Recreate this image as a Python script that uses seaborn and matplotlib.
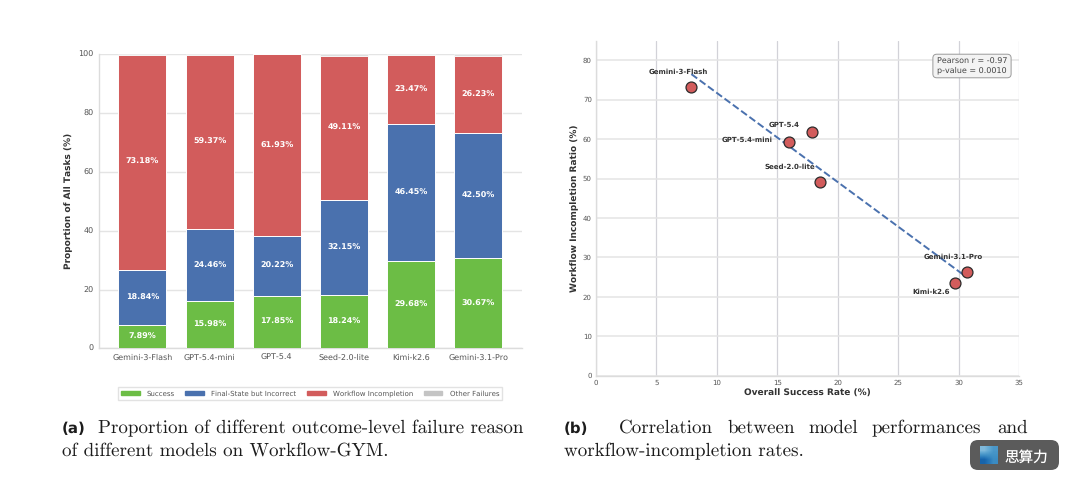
import matplotlib
matplotlib.use("Agg")
import numpy as np
import seaborn as sns
import matplotlib.pyplot as plt
from matplotlib.patches import FancyBboxPatch, Patch

# Data
models = ["Gemini-3-Flash", "GPT-5.4-mini", "GPT-5.4", "Seed-2.0-lite", "Kimi-k2.6", "Gemini-3.1-Pro"]
success = [7.89, 15.98, 17.85, 18.24, 29.68, 30.67]
final_state = [18.84, 24.46, 20.22, 32.15, 46.45, 42.50]
incomplete = [73.18, 59.37, 61.93, 49.11, 23.47, 26.23]
other = [0.09, 0.19, 0.00, 0.50, 0.40, 0.60]
series_names = ["Success", "Final-State but Incorrect", "Workflow Incompletion", "Other Failures"]
# x position of the scatter points as drawn in panel (b)
scatter_success = [7.89, 15.98, 17.85, 18.55, 29.68, 30.67]
pearson_text = "Pearson r = -0.97\np-value = 0.0010"

GREEN, BLUE, RED, GREY = "#6cbd45", "#4a71ae", "#d25c5c", "#c4c4c4"
W, H = 1080, 479

sns.set_theme(style="whitegrid")
plt.rcParams["font.family"] = ["DejaVu Sans"]
plt.rcParams["text.hinting"] = "no_hinting"
plt.rcParams["text.hinting_factor"] = 1
fig = plt.figure(figsize=(W / 100, H / 100), dpi=100, facecolor="white")


def axes_box(x0, x1, ytop, ybottom):
    return [x0 / W, 1 - ybottom / H, (x1 - x0) / W, (ybottom - ytop) / H]


def px_text(x, y, s, **kw):
    fig.text(x / W, 1 - y / H, s, va="baseline", **kw)


# (a) stacked bars
ax1 = fig.add_axes(axes_box(99, 522, 54.3, 348.3))
bottom = np.zeros(len(models))
for vals, color in zip([success, final_state, incomplete, other], [GREEN, BLUE, RED, GREY]):
    sns.barplot(x=models, y=vals, bottom=bottom, color=color, saturation=1, width=0.715,
                edgecolor="white", linewidth=0.7, alpha=0.5 if color == GREY else 1, ax=ax1, zorder=3)
    if color != GREY:
        for i, v in enumerate(vals):
            ax1.text(i, bottom[i] + v / 2, f"{v:.2f}%", ha="center", va="center", color="white",
                     fontsize=5.6, fontweight="bold", zorder=4)
    bottom = bottom + np.array(vals)

ax1.set_xlim(-0.646, 5.65)
ax1.set_ylim(0, 100)
ax1.set_yticks([0, 20, 40, 60, 80, 100])
ax1.grid(axis="x", visible=False)
ax1.grid(axis="y", color="#e4e4e4", linewidth=1.0)
ax1.set_axisbelow(True)
ax1.tick_params(axis="both", labelsize=5.7, labelcolor="#555555", length=0, pad=4)
ax1.set_xlabel("")
ax1.set_ylabel("Proportion of All Tasks (%)", fontsize=6.2, fontweight="bold", color="#333333", labelpad=4)
for name, spine in ax1.spines.items():
    spine.set_visible(name in ("left", "bottom"))
    spine.set_color("#dcdcdc")
    spine.set_linewidth(1.0)

handles = [Patch(facecolor=c, edgecolor=c, label=n) for c, n in zip([GREEN, BLUE, RED, GREY], series_names)]
ax1.legend(handles=handles, loc="center", bbox_to_anchor=(310 / W, 1 - 393.5 / H), bbox_transform=fig.transFigure,
           ncol=4, fontsize=5.2, frameon=True, edgecolor="#e2e2e2", facecolor="white", framealpha=1, fancybox=False,
           handlelength=2.6, handleheight=0.5, columnspacing=1.45, handletextpad=1.0, borderpad=0.45,
           labelcolor="#555555")

# (b) scatter with fitted line
ax2 = fig.add_axes(axes_box(596, 1019, 40.6, 375.7))
sns.regplot(x=scatter_success, y=incomplete, ci=None, scatter=False, truncate=True, ax=ax2,
            line_kws={"color": BLUE, "linestyle": "--", "linewidth": 1.4})
sns.scatterplot(x=scatter_success, y=incomplete, s=62, color=RED, edgecolor="#2b2b2b", linewidth=0.9, ax=ax2, zorder=5)

label_offsets = {
    "Gemini-3-Flash": (-13, 15), "GPT-5.4-mini": (-42, 2), "GPT-5.4": (-28, 7),
    "Seed-2.0-lite": (-30, 15), "Kimi-k2.6": (-24, -9), "Gemini-3.1-Pro": (-13, 15),
}
for name, x, y in zip(models, scatter_success, incomplete):
    ax2.annotate(name, (x, y), xytext=label_offsets[name], textcoords="offset pixels", ha="center", va="center",
                 fontsize=5.3, fontweight="bold", color="#333333", zorder=6)

ax2.set_xlim(0, 35)
ax2.set_ylim(0, 85)
ax2.set_xticks(range(0, 36, 5))
ax2.set_yticks(range(0, 81, 10))
ax2.grid(axis="x", color="#d2d2d8", linewidth=0.9)
ax2.grid(axis="y", color="#e4e4e4", linewidth=1.1)
ax2.set_axisbelow(True)
ax2.tick_params(axis="both", labelsize=5.3, labelcolor="#555555", length=0, pad=3)
ax2.set_xlabel("Overall Success Rate (%)", fontsize=6.2, fontweight="bold", color="#333333", labelpad=2)
ax2.set_ylabel("Workflow Incompletion Ratio (%)", fontsize=6.2, fontweight="bold", color="#333333", labelpad=3)
for name, spine in ax2.spines.items():
    spine.set_visible(name in ("left", "bottom"))
    spine.set_color("#dcdcdc")
    spine.set_linewidth(1.0)
ax2.text((972 - 596) / 423, (375.7 - 66) / 335.1, pearson_text, transform=ax2.transAxes, ha="center", va="center",
         fontsize=5.6, color="#444444", linespacing=1.05, zorder=7,
         bbox=dict(boxstyle="round,pad=0.5", facecolor="#f3f3f3", edgecolor="#9a9a9a", linewidth=0.7))

# captions
serif = dict(family="cmr10", fontsize=13.7, color="#1c1c1c")
bold = dict(family="DejaVu Sans", fontsize=11, fontweight="bold", color="#1c1c1c")
px_text(62, 433, "(a)", **bold)
px_text(98, 433, "Proportion of different outcome-level failure reason", **serif)
px_text(62, 456, "of different models on Workflow-GYM.", **serif)
px_text(564, 433, "(b)", **bold)
for x, word in zip([619, 728, 808, 872, 997], ["Correlation", "between", "model", "performances", "and"]):
    px_text(x, 433, word, **serif)
px_text(564, 456, "workflow-incompletion rates.", **serif)

# watermark badge with a small gradient icon
overlay = fig.add_axes([0, 0, 1, 1], facecolor="none")
overlay.axis("off")
overlay.add_patch(FancyBboxPatch((970, 440), 89, 30, boxstyle="round,pad=0,rounding_size=8",
                                 facecolor="#5b5b5b", edgecolor="none"))
overlay.imshow([[0.45, 0.6], [0.8, 0.65]], extent=(980, 998, 464, 446), cmap="Blues", vmin=0, vmax=1,
               aspect="auto", interpolation="bilinear", zorder=3)
overlay.set_xlim(0, W)
overlay.set_ylim(H, 0)
overlay.text(1004, 461.5, "思算力", family=["Noto Sans CJK SC", "DejaVu Sans"], fontsize=10.5, color="white", zorder=3)

fig.savefig("out.png", dpi=100)
